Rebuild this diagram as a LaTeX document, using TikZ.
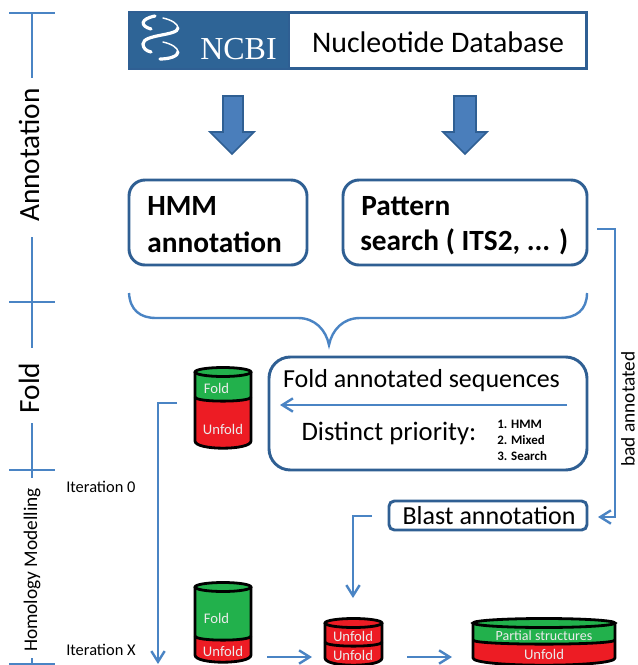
\documentclass[tikz,border=0pt]{standalone}
\usepackage{fontspec}
\setmainfont{Carlito}
\newfontfamily\ncbifont{Liberation Serif}
\usetikzlibrary{arrows.meta}
\definecolor{boxblue}{HTML}{2F5F93}
\definecolor{linkblue}{HTML}{4A84C4}
\definecolor{fillblue}{HTML}{4A7EBB}
\definecolor{cylgreen}{HTML}{22B14C}
\definecolor{cylred}{HTML}{ED1C24}
\definecolor{ncbiblue}{HTML}{2E6496}
\tikzset{
  roundbox/.style={draw=boxblue,line width=2.2pt,fill=white,rounded corners=12pt,inner sep=0pt},
  linkline/.style={draw=linkblue,line width=1.8pt},
  linkarrow/.style={linkline,-{Straight Barb[length=8pt,width=10pt,line width=1.8pt]}},
  blockarrow/.style={draw=boxblue,fill=fillblue,line width=1.3pt},
  cylline/.style={draw=black,line width=2.1pt},
  scaleline/.style={draw=linkblue,line width=1.6pt},
  lab/.style={inner sep=0pt,text=black},
  cyllab/.style={inner sep=0pt,text=white!92!black,font=\fontsize{11}{11}\selectfont},
}
% left, right, top y, boundary y, lower y, bottom-curve depth, upper colour, lower colour
\newcommand{\barrel}[8]{%
  \pgfmathsetmacro{\xc}{(#1+#2)/2}
  \fill[#8] (#1,#4) -- (#1,#5) .. controls (#1,{#5+#6*1.2}) and (#2,{#5+#6*1.2}) .. (#2,#5) -- (#2,#4) -- cycle;
  \fill[#7] (#1,#3) -- (#1,#4) .. controls (#1,{#4+5}) and (#2,{#4+5}) .. (#2,#4) -- (#2,#3) -- cycle;
  \draw[cylline] (#1,#4) .. controls (#1,{#4+5.5}) and (#2,{#4+5.5}) .. (#2,#4);
  \draw[cylline,line join=round] (#1,#3) -- (#1,#5) .. controls (#1,{#5+#6*1.2}) and (#2,{#5+#6*1.2}) .. (#2,#5) -- (#2,#3);
  \draw[cylline,fill=#7] (\xc,#3) ellipse [x radius={(#2-#1)/2},y radius=4.5];
}
\begin{document}
\begin{tikzpicture}[x=0.75pt,y=-0.75pt]
\clip (0,0) rectangle (638,665);
\fill[white] (0,0) rectangle (638,665);

% left scale
\node[lab,rotate=90,font=\fontsize{22}{22}\selectfont] (annot) at (29,155) {Annotation};
\node[lab,rotate=90,font=\fontsize{22}{22}\selectfont] (foldlab) at (29,388) {Fold};
\node[lab,rotate=90,font=\fontsize{14.5}{14.5}\selectfont] (homol) at (32,570) {Homology Modelling};
\coordinate (s0) at (32,13);
\coordinate (s1) at (32,78);
\coordinate (s2) at (32,237);
\coordinate (s3) at (32,348);
\coordinate (s4) at (32,423);
\coordinate (s5) at (32,478);
\coordinate (s6) at (32,658);
\coordinate (s7) at (32,665);
\draw[scaleline] (s0) -- (s1) (s2) -- (s3) (s4) -- (s5) (s6) -- (s7);
\foreach \ty in {13,302,470,664} \draw[scaleline] (9,\ty) -- (55,\ty);

\node[lab,anchor=west,font=\fontsize{12.3}{12.3}\selectfont] (it0) at (66,487) {Iteration 0};
\node[lab,anchor=west,font=\fontsize{12.3}{12.3}\selectfont] (itx) at (66,650) {Iteration X};

% NCBI banner
\node[draw=boxblue,line width=2pt,fill=white,minimum width=342.5pt,minimum height=42pt,inner sep=0pt] (db) at (358,40.5) {};
\fill[ncbiblue,draw=boxblue,line width=1pt] (129,12) rectangle (289,69);
\node[lab,font=\fontsize{22.4}{22.4}\selectfont] (dbtext) at (438,42) {Nucleotide Database};
\node[inner sep=0pt,text=white,font=\ncbifont\fontsize{24}{24}\selectfont] (ncbi) at (238.5,49) {NCBI};
\draw[white,line width=2.4pt,line cap=round] (155,16) .. controls (140,19) and (140,26) .. (151,29);
\draw[white,line width=1.1pt,line cap=round] (163,18) .. controls (172,20) and (178,24) .. (178,28);
\draw[white,line width=2.4pt,line cap=round] (178,28) .. controls (178,36) and (143,34) .. (143,44) .. controls (143,48) and (146,51) .. (151,52);
\draw[white,line width=1.1pt,line cap=round] (163,42) .. controls (172,44) and (178,48) .. (178,52);
\draw[white,line width=2.4pt,line cap=round] (178,52) .. controls (178,56) and (170,59) .. (160,59);

% block arrows
\draw[blockarrow] (223,96) -- (243,96) -- (243,132) -- (254,132) -- (232,154) -- (210,132) -- (223,132) -- cycle;
\draw[blockarrow] (454,96) -- (476,96) -- (476,132) -- (487,132) -- (465,154) -- (443,132) -- (454,132) -- cycle;

% annotation boxes
\node[roundbox,minimum width=133.5pt,minimum height=63.75pt] (hmm) at (218,222.5) {};
\node[roundbox,minimum width=183pt,minimum height=63.75pt] (pattern) at (465,222.5) {};
\node[lab,anchor=west,font=\fontsize{22}{22}\selectfont\bfseries] (hmm1) at (147,206) {HMM};
\node[lab,anchor=west,font=\fontsize{22}{22}\selectfont\bfseries] (hmm2) at (147,242) {annotation};
\node[lab,anchor=west,font=\fontsize{22}{22}\selectfont\bfseries] (pat1) at (361,206) {Pattern};
\node[lab,anchor=west,font=\fontsize{22}{22}\selectfont\bfseries] (pat2) at (360,242) {search ( ITS2, ... )};

% brace
\coordinate (brL) at (129,293);
\coordinate (brR) at (587,293);
\coordinate (brT) at (329,345);
\draw[linkline] (brL) .. controls (130,310) and (140,318) .. (156,318) -- (298,318) .. controls (315,318) and (326,330) .. (brT) .. controls (332,330) and (343,318) .. (360,318) -- (560,318) .. controls (576,318) and (587,310) .. (brR);

% fold box
\node[roundbox,rounded corners=16pt,minimum width=238.5pt,minimum height=84.75pt] (foldbox) at (428,413.5) {};
\node[lab,font=\fontsize{19.5}{19.5}\selectfont] (foldt) at (421.5,381) {Fold annotated sequences};
\node[lab,font=\fontsize{20}{20}\selectfont] (dist) at (389,433) {Distinct priority:};
\node[lab,anchor=west,font=\fontsize{9.7}{9.7}\selectfont\bfseries] (l1) at (497,424) {1. HMM};
\node[lab,anchor=west,font=\fontsize{9.7}{9.7}\selectfont\bfseries] (l2) at (497,440) {2. Mixed};
\node[lab,anchor=west,font=\fontsize{9.7}{9.7}\selectfont\bfseries] (l3) at (497,456) {3. Search};
\coordinate (foldS) at (567,405);
\coordinate (foldE) at (280,405);
\draw[linkarrow] (foldS) -- (foldE);

% bad annotated link
\coordinate (badS) at (597,229);
\coordinate (badC1) at (615,229);
\coordinate (badC2) at (615,517);
\coordinate (badE) at (598,517);
\draw[linkarrow] (badS) -- (badC1) -- (badC2) -- (badE);
\node[lab,rotate=90,font=\fontsize{14.5}{14.5}\selectfont] (badl) at (628,409) {bad annotated};

% blast
\node[draw=boxblue,line width=2.2pt,fill=white,rounded corners=4pt,minimum width=148.5pt,minimum height=21.75pt,inner sep=0pt] (blast) at (488,515.5) {};
\node[lab,font=\fontsize{19.5}{19.5}\selectfont] (blastt) at (489,516) {Blast annotation};
\coordinate (blS) at (372,516);
\coordinate (blC) at (353,516);
\coordinate (blE) at (353,598);
\draw[linkarrow] (blS) -- (blC) -- (blE);

% barrels
\barrel{195}{251}{372}{397}{441}{8}{cylgreen}{cylred}
\node[cyllab] (c1a) at (216.5,388) {Fold};
\node[cyllab] (c1b) at (223,429) {Unfold};
\barrel{195}{251}{587}{636}{655}{8}{cylgreen}{cylred}
\node[cyllab] (c2a) at (216.5,618) {Fold};
\node[cyllab] (c2b) at (223,651) {Unfold};
\barrel{325}{382}{623}{642}{658}{8}{cylred}{cylred}
\node[cyllab] (c3a) at (353,636) {Unfold};
\node[cyllab] (c3b) at (353,655) {Unfold};
\barrel{473}{615}{623}{640}{658}{8}{cylgreen}{cylred}
\node[cyllab,font=\fontsize{10.5}{10.5}\selectfont] (c4a) at (544,636) {Partial structures};
\node[cyllab] (c4b) at (544,654) {Unfold};

% lower links
\coordinate (itS) at (177,403);
\coordinate (itC) at (158,403);
\coordinate (itE) at (158,664);
\draw[linkarrow] (itS) -- (itC) -- (itE);
\coordinate (a1) at (267,657);
\coordinate (a2) at (312,657);
\coordinate (a3) at (407,657);
\coordinate (a4) at (452,657);
\draw[linkarrow] (a1) -- (a2);
\draw[linkarrow] (a3) -- (a4);
\end{tikzpicture}
\end{document}
